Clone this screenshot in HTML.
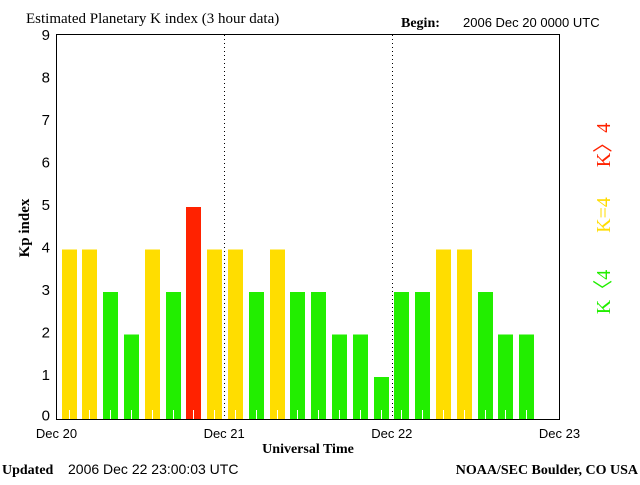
<!DOCTYPE html>
<html><head><meta charset="utf-8"><style>
body{margin:0;background:#fff;width:640px;height:480px;overflow:hidden}
svg text{font-family:"Liberation Sans",sans-serif}
.serif{font-family:"Liberation Serif",serif;font-weight:bold}
</style></head><body>
<svg id="c" width="640" height="480" xmlns="http://www.w3.org/2000/svg">
<text x="26" y="23" font-size="15" style="font-family:'Liberation Serif',serif">Estimated Planetary K index (3 hour data)</text>
<text x="401" y="27" class="serif" font-size="14">Begin:</text>
<text x="463" y="27" font-size="13">2006 Dec 20 0000 UTC</text>
<g id="bars"></g>
<rect x="56.5" y="34.5" width="503" height="385" fill="none" stroke="#000"/>
<g id="axes"></g>
<text x="29" y="228" class="serif" font-size="15" transform="rotate(-90 29 228)" text-anchor="middle">Kp index</text>
<text x="308" y="453" class="serif" font-size="14" text-anchor="middle">Universal Time</text>
<text x="2" y="474" class="serif" font-size="14">Updated</text>
<text x="68" y="474" font-size="14">2006 Dec 22 23:00:03 UTC</text>
<text x="638" y="474" class="serif" font-size="14" text-anchor="end">NOAA/SEC Boulder, CO USA</text>
<text x="610" y="145" font-size="20" fill="#ff2200" transform="rotate(-90 610 145)" text-anchor="middle" style="font-family:'Liberation Serif',serif">K〉4</text>
<text x="610" y="215" font-size="20" fill="#ffdd00" transform="rotate(-90 610 215)" text-anchor="middle" style="font-family:'Liberation Serif',serif">K=4</text>
<text x="610" y="292" font-size="20" fill="#22ee00" transform="rotate(-90 610 292)" text-anchor="middle" style="font-family:'Liberation Serif',serif">K〈4</text>
</svg>
<script>
const kpValues=[4,4,3,2,4,3,5,4, 4,3,4,3,3,2,2,1, 3,3,4,4,3,2,2];
const dayLabels=["Dec 20","Dec 21","Dec 22","Dec 23"];
const yTicks=[0,1,2,3,4,5,6,7,8,9];
const NS="http://www.w3.org/2000/svg";
const x0=56.5,x1=559.5,y0=419.5,unit=42.5;
const slot=20.8;
const daySlot=(x1-x0)/24;
const xs=i=>x0+i*slot;
const xd=i=>x0+i*daySlot;
const ys=v=>y0-v*unit;
function el(t,a,p){const e=document.createElementNS(NS,t);for(const k in a)e.setAttribute(k,a[k]);p.appendChild(e);return e;}
const bars=document.getElementById('bars'),axes=document.getElementById('axes');
kpValues.forEach((v,i)=>{
 const c=v>4?'#ff2200':(v==4?'#ffdd00':'#22ee00');
 const bx=Math.round(xs(i)+5),w=15;
 const r=el('rect',{x:bx,y:ys(v),width:w,height:y0-ys(v),fill:c},bars);
 
 
 const t=el('line',{x1:bx+7.5,x2:bx+7.5,y1:410,y2:419,stroke:'#fff'},bars);
 
 
});
yTicks.forEach(v=>{
 const t=el('text',{x:50,y:ys(v)+1+(v==0?0:2),'font-size':15,'text-anchor':'end'},axes);t.textContent=v;
 
 
});
dayLabels.forEach((d,i)=>{
 const x=xd(i*8);
 const t=el('text',{x:x,y:438,'font-size':13,'text-anchor':'middle'},axes);t.textContent=d;
 
 
 if(i>0&&i<3){const l=el('line',{x1:Math.round(x)+0.5,x2:Math.round(x)+0.5,y1:35,y2:419,stroke:'#000','stroke-dasharray':'1,3'},axes);
 
 }
});
</script>
</body></html>
